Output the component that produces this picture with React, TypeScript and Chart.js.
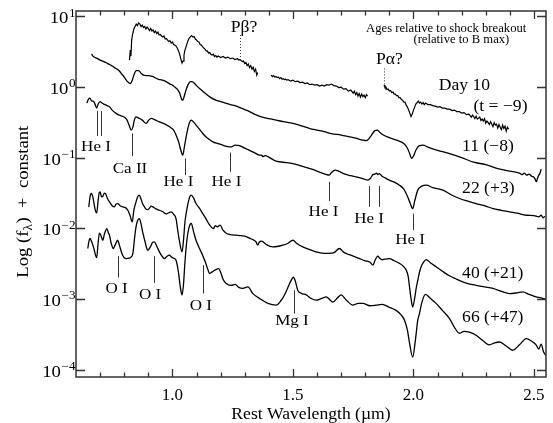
import React, { useEffect, useRef } from 'react';
import { Chart, registerables } from 'chart.js';

Chart.register(...registerables);

const FONT = "'Liberation Serif', 'Times New Roman', Times, serif";

// ---- Spectra: [rest wavelength (µm), flux + constant] ----
const day10Seg1: [number, number][] = [
  [0.822, 2.40], [0.825, 3.33], [0.828, 2.74], [0.831, 4.62], [0.835, 5.62],
  [0.84, 6.61], [0.845, 7.17], [0.85, 7.78], [0.855, 7.41], [0.86, 8.04], [0.865, 7.78], [0.87, 7.17],
  [0.875, 7.53], [0.88, 6.94], [0.885, 7.17], [0.89, 6.61], [0.895, 7.06], [0.9, 6.72], [0.905, 6.29],
  [0.91, 6.72], [0.915, 6.19], [0.92, 6.40], [0.925, 5.90], [0.93, 6.19], [0.935, 5.71], [0.94, 5.99],
  [0.945, 5.44], [0.95, 5.53], [0.955, 5.26], [0.96, 5.09], [0.965, 5.26], [0.97, 4.77], [0.975, 4.85],
  [0.98, 4.62], [0.985, 4.40], [0.99, 4.54], [0.995, 4.19], [1.0, 4.33], [1.005, 3.98], [1.01, 3.92],
  [1.015, 3.80], [1.02, 3.56], [1.025, 3.27], [1.03, 2.92], [1.035, 2.48], [1.04, 2.18], [1.044, 2.33],
  [1.048, 2.83], [1.052, 3.33], [1.056, 3.67], [1.06, 4.05], [1.065, 4.54], [1.07, 4.93], [1.075, 5.17],
  [1.08, 5.35], [1.085, 5.09], [1.09, 5.17], [1.095, 4.77], [1.1, 4.62], [1.105, 4.40], [1.11, 4.33],
  [1.115, 3.98], [1.12, 3.92], [1.125, 3.73], [1.13, 3.56], [1.135, 3.44], [1.14, 3.27], [1.145, 3.22],
  [1.15, 3.02], [1.155, 3.07], [1.16, 2.88], [1.165, 2.83], [1.17, 2.92], [1.175, 2.70], [1.18, 2.78],
  [1.185, 2.65], [1.19, 2.74], [1.2, 2.61], [1.21, 2.70], [1.22, 2.57], [1.23, 2.65], [1.24, 2.52],
  [1.25, 2.57], [1.26, 2.44], [1.27, 2.52], [1.275, 2.40], [1.28, 2.44], [1.29, 2.29], [1.295, 2.33],
  [1.3, 2.15], [1.305, 2.22], [1.31, 2.01], [1.315, 2.11], [1.32, 1.88], [1.325, 2.01], [1.33, 1.79],
  [1.335, 1.91], [1.34, 1.66], [1.345, 1.79], [1.35, 1.47], [1.354, 1.60],
];
const day10Seg2: [number, number][] = [
  [1.41, 1.47], [1.415, 1.40], [1.42, 1.45], [1.425, 1.38], [1.43, 1.40], [1.435, 1.36], [1.44, 1.38],
  [1.445, 1.31], [1.45, 1.36], [1.455, 1.29], [1.46, 1.31], [1.465, 1.27], [1.47, 1.29], [1.475, 1.25],
  [1.48, 1.27], [1.49, 1.21], [1.5, 1.25], [1.51, 1.19], [1.52, 1.21], [1.53, 1.155], [1.54, 1.17],
  [1.55, 1.12], [1.56, 1.14], [1.57, 1.08], [1.58, 1.10], [1.59, 1.064], [1.6, 1.08], [1.61, 1.03],
  [1.62, 1.064], [1.63, 1.03], [1.64, 1.08], [1.65, 1.064], [1.66, 1.10], [1.67, 1.047], [1.68, 1.03],
  [1.69, 0.981], [1.7, 0.997], [1.71, 0.934], [1.72, 0.95], [1.73, 0.875], [1.74, 0.904], [1.75, 0.82],
  [1.755, 0.875], [1.76, 0.78], [1.765, 0.833], [1.77, 0.743], [1.775, 0.806], [1.78, 0.719],
  [1.785, 0.793], [1.79, 0.731], [1.795, 0.768], [1.8, 0.707], [1.805, 0.78], [1.81, 0.743],
];
const day10Seg3: [number, number][] = [
  [1.878, 1.064], [1.882, 0.981], [1.886, 0.997], [1.89, 0.92], [1.895, 0.934], [1.9, 0.875],
  [1.905, 0.89], [1.91, 0.833], [1.915, 0.847], [1.92, 0.793], [1.925, 0.793], [1.93, 0.755],
  [1.935, 0.755], [1.94, 0.707], [1.945, 0.707], [1.95, 0.663], [1.955, 0.652], [1.96, 0.611],
  [1.965, 0.611], [1.97, 0.554], [1.975, 0.519], [1.98, 0.471], [1.985, 0.427], [1.99, 0.381],
  [1.995, 0.413], [2.0, 0.471], [2.005, 0.519], [2.01, 0.573], [2.015, 0.601], [2.02, 0.631],
  [2.025, 0.592], [2.03, 0.611], [2.035, 0.573], [2.04, 0.601], [2.045, 0.563], [2.05, 0.592],
  [2.06, 0.563], [2.07, 0.563], [2.08, 0.545], [2.09, 0.536], [2.1, 0.519], [2.11, 0.527], [2.12, 0.503],
  [2.13, 0.503], [2.14, 0.486], [2.15, 0.486], [2.16, 0.463], [2.17, 0.471], [2.18, 0.449], [2.19, 0.449],
  [2.2, 0.427], [2.21, 0.434], [2.22, 0.406], [2.23, 0.413], [2.24, 0.375], [2.245, 0.40], [2.25, 0.381],
  [2.255, 0.357], [2.26, 0.387], [2.265, 0.351], [2.27, 0.363], [2.275, 0.375], [2.28, 0.335],
  [2.285, 0.351], [2.29, 0.329], [2.295, 0.357], [2.3, 0.308], [2.305, 0.329], [2.31, 0.313],
  [2.315, 0.294], [2.32, 0.323], [2.325, 0.298], [2.33, 0.275], [2.335, 0.313], [2.34, 0.289],
  [2.345, 0.298], [2.35, 0.262], [2.355, 0.294], [2.36, 0.27], [2.365, 0.249], [2.37, 0.289],
  [2.375, 0.258], [2.38, 0.279], [2.385, 0.237], [2.39, 0.27], [2.395, 0.253],
];
const day11: [number, number][] = [
  [0.665, 2.94], [0.67, 2.74], [0.68, 2.61], [0.69, 2.52], [0.7, 2.40], [0.71, 2.33], [0.72, 2.25],
  [0.73, 2.16], [0.74, 2.08], [0.75, 1.98], [0.76, 1.88], [0.77, 1.79], [0.78, 1.68], [0.79, 1.52],
  [0.8, 1.38], [0.81, 1.23], [0.82, 1.14], [0.826, 1.12], [0.832, 1.21], [0.84, 1.47], [0.85, 1.71],
  [0.86, 1.71], [0.87, 1.57], [0.88, 1.47], [0.89, 1.45], [0.9, 1.45], [0.91, 1.43], [0.92, 1.40],
  [0.93, 1.34], [0.94, 1.29], [0.95, 1.27], [0.96, 1.25], [0.97, 1.21], [0.98, 1.155], [0.99, 1.10],
  [1.0, 1.064], [1.01, 0.997], [1.02, 0.934], [1.03, 0.82], [1.038, 0.674], [1.043, 0.652], [1.048, 0.719],
  [1.055, 0.875], [1.065, 1.08], [1.075, 1.19], [1.08, 1.19], [1.09, 1.14], [1.1, 1.047], [1.12, 0.904],
  [1.14, 0.793], [1.16, 0.707], [1.18, 0.652], [1.2, 0.621], [1.22, 0.592], [1.24, 0.563], [1.26, 0.545],
  [1.28, 0.511], [1.3, 0.479], [1.32, 0.449], [1.34, 0.413], [1.36, 0.387], [1.38, 0.369], [1.4, 0.357],
  [1.43, 0.34], [1.46, 0.323], [1.5, 0.305], [1.54, 0.279], [1.57, 0.258], [1.6, 0.245], [1.63, 0.233],
  [1.66, 0.219], [1.7, 0.209], [1.73, 0.199], [1.76, 0.189], [1.79, 0.177], [1.805, 0.174], [1.82, 0.195],
  [1.84, 0.241], [1.85, 0.245], [1.86, 0.229], [1.875, 0.209], [1.9, 0.192], [1.93, 0.177], [1.96, 0.158],
  [1.975, 0.136], [1.985, 0.1125], [1.992, 0.0975], [2.0, 0.105], [2.01, 0.127], [2.025, 0.148],
  [2.04, 0.15], [2.06, 0.141], [2.1, 0.127], [2.15, 0.114], [2.2, 0.1], [2.25, 0.0863], [2.3, 0.0796],
  [2.35, 0.0698], [2.4, 0.0644], [2.44, 0.0603], [2.45, 0.0575], [2.46, 0.0603], [2.47, 0.0566],
  [2.48, 0.0585], [2.49, 0.0547], [2.5, 0.0529], [2.505, 0.0496], [2.51, 0.0457], [2.515, 0.0512],
  [2.52, 0.0566], [2.525, 0.0603], [2.53, 0.0687],
];
const day22: [number, number][] = [
  [0.645, 0.592], [0.652, 0.674], [0.658, 0.696], [0.665, 0.631], [0.672, 0.631], [0.678, 0.582],
  [0.686, 0.503], [0.692, 0.573], [0.7, 0.621], [0.708, 0.592], [0.715, 0.573], [0.725, 0.554],
  [0.739, 0.524], [0.75, 0.471], [0.766, 0.423], [0.78, 0.40], [0.8, 0.375], [0.812, 0.34], [0.82, 0.289],
  [0.829, 0.245], [0.836, 0.27], [0.842, 0.34], [0.849, 0.378], [0.86, 0.363], [0.875, 0.34],
  [0.891, 0.305], [0.902, 0.34], [0.912, 0.359], [0.93, 0.34], [0.946, 0.321], [0.965, 0.303],
  [0.988, 0.273], [1.005, 0.245], [1.015, 0.209], [1.025, 0.171], [1.035, 0.127], [1.043, 0.1085],
  [1.05, 0.145], [1.06, 0.222], [1.07, 0.308], [1.078, 0.34], [1.09, 0.313], [1.098, 0.289],
  [1.112, 0.253], [1.126, 0.22], [1.145, 0.189], [1.168, 0.1675], [1.19, 0.158], [1.209, 0.15],
  [1.23, 0.143], [1.244, 0.142], [1.26, 0.15], [1.278, 0.148], [1.3, 0.136], [1.32, 0.127], [1.34, 0.118],
  [1.361, 0.1085], [1.37, 0.1085], [1.375, 0.1035], [1.385, 0.107], [1.4, 0.1017], [1.43, 0.0892],
  [1.46, 0.0861], [1.5, 0.0826], [1.53, 0.077], [1.568, 0.0703], [1.6, 0.0644], [1.624, 0.0597],
  [1.64, 0.0575], [1.651, 0.0566], [1.66, 0.0615], [1.675, 0.0668], [1.69, 0.0644], [1.71, 0.0594],
  [1.74, 0.0556], [1.762, 0.0535], [1.79, 0.0505], [1.811, 0.0481], [1.822, 0.0512], [1.832, 0.0575],
  [1.84, 0.0585], [1.847, 0.0603], [1.852, 0.0575], [1.858, 0.0594], [1.87, 0.0547], [1.885, 0.0512],
  [1.9, 0.0481], [1.92, 0.045], [1.942, 0.0408], [1.96, 0.0358], [1.975, 0.0285], [1.985, 0.0234],
  [1.997, 0.019], [2.005, 0.0242], [2.018, 0.0347], [2.035, 0.0395], [2.053, 0.0408], [2.08, 0.0376],
  [2.122, 0.0347], [2.16, 0.0294], [2.191, 0.0264], [2.226, 0.0242], [2.26, 0.0224], [2.3, 0.0206],
  [2.33, 0.019], [2.365, 0.018], [2.398, 0.0171], [2.43, 0.0164], [2.468, 0.0153], [2.5, 0.0151],
  [2.52, 0.01455], [2.53, 0.0153], [2.538, 0.0141], [2.545, 0.0148],
];
const day40: [number, number][] = [
  [0.653, 0.0199], [0.658, 0.0276], [0.663, 0.0311], [0.67, 0.0276], [0.676, 0.0212], [0.681, 0.0175],
  [0.686, 0.01655], [0.692, 0.025], [0.697, 0.0324], [0.7, 0.0328], [0.706, 0.0278], [0.712, 0.0285],
  [0.717, 0.0314], [0.722, 0.0311], [0.73, 0.0267], [0.739, 0.0236], [0.75, 0.0209], [0.759, 0.0201],
  [0.766, 0.022], [0.773, 0.0224], [0.783, 0.0209], [0.794, 0.0201], [0.805, 0.0196], [0.815, 0.018],
  [0.824, 0.0153], [0.833, 0.0123], [0.84, 0.018], [0.849, 0.0236], [0.856, 0.028], [0.863, 0.0294],
  [0.87, 0.0258], [0.877, 0.022], [0.884, 0.0201], [0.891, 0.0186], [0.898, 0.0184], [0.905, 0.0193],
  [0.912, 0.0206], [0.919, 0.0201], [0.93, 0.019], [0.946, 0.018], [0.96, 0.0172], [0.975, 0.016],
  [0.985, 0.0166], [0.995, 0.0171], [1.005, 0.0158], [1.015, 0.01375], [1.022, 0.0094], [1.03, 0.00635],
  [1.04, 0.00464], [1.046, 0.00678], [1.052, 0.0122], [1.058, 0.0169], [1.065, 0.0227], [1.072, 0.028],
  [1.078, 0.0294], [1.088, 0.0267], [1.098, 0.0224], [1.112, 0.0193], [1.126, 0.0161], [1.14, 0.0135],
  [1.152, 0.01145], [1.161, 0.01047], [1.17, 0.0099], [1.178, 0.0109], [1.186, 0.0105], [1.198, 0.01107],
  [1.21, 0.0094], [1.223, 0.00852], [1.24, 0.00814], [1.264, 0.00798], [1.285, 0.00785], [1.306, 0.00765],
  [1.325, 0.00712], [1.347, 0.00642], [1.354, 0.00577], [1.36, 0.00635], [1.37, 0.00659], [1.39, 0.00587],
  [1.417, 0.00545], [1.44, 0.00557], [1.458, 0.00577], [1.48, 0.00615], [1.5, 0.00678], [1.515, 0.00615],
  [1.541, 0.00545], [1.57, 0.00498], [1.596, 0.00464], [1.62, 0.00445], [1.651, 0.00441], [1.67, 0.00452],
  [1.693, 0.00518], [1.71, 0.0046], [1.735, 0.00423], [1.776, 0.00373], [1.8, 0.00347], [1.82, 0.00331],
  [1.832, 0.00301], [1.84, 0.00347], [1.852, 0.00403], [1.86, 0.00377], [1.87, 0.00359], [1.88, 0.00365],
  [1.9, 0.00373], [1.92, 0.00347], [1.942, 0.00319], [1.96, 0.00286], [1.97, 0.00256], [1.978, 0.0021],
  [1.983, 0.00156], [1.99, 0.00102], [1.997, 0.00077], [2.005, 0.00102], [2.012, 0.00146], [2.018, 0.00184],
  [2.025, 0.00239], [2.032, 0.00285], [2.042, 0.00331], [2.053, 0.00361], [2.07, 0.00326], [2.094, 0.00285],
  [2.12, 0.00247], [2.149, 0.00213], [2.175, 0.00193], [2.205, 0.00174], [2.23, 0.00164], [2.26, 0.00156],
  [2.295, 0.00148], [2.33, 0.00141], [2.365, 0.00128], [2.398, 0.00119], [2.43, 0.00122], [2.454, 0.00126],
  [2.48, 0.00116], [2.509, 0.00107], [2.53, 0.00104], [2.55, 0.00098],
];
const day66: [number, number][] = [
  [0.649, 0.00518], [0.653, 0.00635], [0.658, 0.00717], [0.664, 0.00659], [0.67, 0.00577], [0.676, 0.00489],
  [0.681, 0.00416], [0.686, 0.00386], [0.691, 0.00577], [0.697, 0.00852], [0.703, 0.00798], [0.711, 0.00678],
  [0.718, 0.0083], [0.728, 0.0099], [0.734, 0.00867], [0.739, 0.00798], [0.746, 0.00615], [0.755, 0.00518],
  [0.762, 0.00577], [0.773, 0.00678], [0.78, 0.00577], [0.79, 0.00445], [0.8, 0.00383], [0.808, 0.00373],
  [0.82, 0.00377], [0.828, 0.0039], [0.836, 0.00441], [0.842, 0.00678], [0.849, 0.01047], [0.856, 0.013],
  [0.863, 0.01375], [0.87, 0.01145], [0.877, 0.00873], [0.885, 0.00678], [0.891, 0.00557], [0.898, 0.00489],
  [0.91, 0.00557], [0.918, 0.00635], [0.925, 0.00642], [0.935, 0.00557], [0.946, 0.00464], [0.957, 0.00403],
  [0.967, 0.00373], [0.978, 0.00403], [0.988, 0.00416], [0.995, 0.00396], [1.005, 0.00377], [1.015, 0.00354],
  [1.025, 0.00239], [1.033, 0.00146], [1.04, 0.00114], [1.046, 0.00161], [1.052, 0.00331], [1.06, 0.00678],
  [1.068, 0.01], [1.078, 0.0117], [1.088, 0.0089], [1.098, 0.00678], [1.11, 0.0054], [1.119, 0.00464],
  [1.128, 0.00393], [1.137, 0.00331], [1.148, 0.00256], [1.154, 0.00229], [1.165, 0.00242], [1.178, 0.00258],
  [1.192, 0.00269], [1.2, 0.00239], [1.21, 0.0019], [1.222, 0.00167], [1.244, 0.00156], [1.26, 0.00161],
  [1.275, 0.00146], [1.292, 0.00141], [1.313, 0.00148], [1.334, 0.00119], [1.361, 0.00102], [1.396, 0.000865],
  [1.43, 0.000817], [1.45, 0.000944], [1.465, 0.00114], [1.485, 0.00161], [1.496, 0.00193], [1.502, 0.00203],
  [1.51, 0.00178], [1.52, 0.00133], [1.535, 0.0012], [1.555, 0.00114], [1.575, 0.00102], [1.596, 0.00096],
  [1.62, 0.00102], [1.638, 0.00107], [1.655, 0.00096], [1.666, 0.000904], [1.685, 0.00104], [1.7, 0.00114],
  [1.72, 0.000975], [1.749, 0.000817], [1.77, 0.000865], [1.79, 0.000865], [1.82, 0.000802], [1.845, 0.000817],
  [1.87, 0.00084], [1.9, 0.000762], [1.928, 0.00069], [1.95, 0.000589], [1.963, 0.0005], [1.975, 0.000361],
  [1.985, 0.000224], [1.997, 0.00015], [2.008, 0.000259], [2.018, 0.0005], [2.025, 0.000621], [2.035, 0.000896],
  [2.05, 0.00116], [2.07, 0.00102], [2.094, 0.000865], [2.12, 0.00069], [2.149, 0.000533], [2.17, 0.000397],
  [2.191, 0.000327], [2.21, 0.000348], [2.232, 0.00034], [2.26, 0.000306], [2.29, 0.000254], [2.315, 0.000224],
  [2.337, 0.000239], [2.357, 0.000246], [2.385, 0.000216], [2.412, 0.000188], [2.44, 0.000224], [2.468, 0.000275],
  [2.49, 0.000254], [2.509, 0.000224], [2.52, 0.000195], [2.53, 0.00023], [2.54, 0.000177], [2.55, 0.000159],
];

// ---- Axes ----
const xMin = 0.6;
const xMax = 2.55;
const yMin = 7.86e-5;
const yMax = 11.9;
const xTickValues = [1.0, 1.5, 2.0, 2.5];
const xTickLabels = ['1.0', '1.5', '2.0', '2.5'];
const xMinorTicks = [0.7, 0.8, 0.9, 1.1, 1.2, 1.3, 1.4, 1.6, 1.7, 1.8, 1.9, 2.1, 2.2, 2.3, 2.4];
const yTickValues = [1e-4, 1e-3, 1e-2, 1e-1, 1, 10];
const yTickBase = '10';
const yTickExponents = ['\u22124', '\u22123', '\u22122', '\u22121', '0', '1'];
const xTitle = 'Rest Wavelength (\u00b5m)';
const yTitleParts = ['Log (f', '\u03bb', ')  +  constant'];

// ---- Annotations ----
const lineIds = [
  { text: 'He I', waves: [0.686, 0.704], top: 0.456, bottom: 0.202, textWave: 0.683, textFlux: 0.123 },
  { text: 'Ca II', waves: [0.8315], top: 0.22, bottom: 0.105, textWave: 0.824, textFlux: 0.0609 },
  { text: 'He I', waves: [1.0515], top: 0.0975, bottom: 0.0566, textWave: 1.025, textFlux: 0.0395 },
  { text: 'He I', waves: [1.2407], top: 0.118, bottom: 0.0629, textWave: 1.224, textFlux: 0.0395 },
  { text: 'He I', waves: [1.6515], top: 0.0455, bottom: 0.0244, textWave: 1.627, textFlux: 0.01485 },
  { text: 'He I', waves: [1.815, 1.8564], top: 0.0395, bottom: 0.0201, textWave: 1.816, textFlux: 0.0119 },
  { text: 'He I', waves: [2.0], top: 0.0161, bottom: 0.0094, textWave: 1.986, textFlux: 0.00596 },
  { text: 'O I', waves: [0.776], top: 0.00403, bottom: 0.00201, textWave: 0.7685, textFlux: 0.00121 },
  { text: 'O I', waves: [0.925], top: 0.00403, bottom: 0.00169, textWave: 0.9075, textFlux: 0.00099 },
  { text: 'O I', waves: [1.1286], top: 0.00301, bottom: 0.00119, textWave: 1.118, textFlux: 0.000707 },
  { text: 'Mg I', waves: [1.5037], top: 0.00133, bottom: 0.000621, textWave: 1.496, textFlux: 0.000434 },
];
const dottedIds = [
  { text: 'P\u03b2?', wave: 1.281, top: 5.44, bottom: 2.25, textWave: 1.297, textFlux: 5.97 },
  { text: 'P\u03b1?', wave: 1.878, top: 1.83, bottom: 0.987, textWave: 1.9004, textFlux: 2.1 },
];
const epochLabels = [
  { text: 'Day 10', wave: 2.105, flux: 0.904 },
  { text: '(t = \u22129)', wave: 2.249, flux: 0.456 },
  { text: '11 (\u22128)', wave: 2.202, flux: 0.1245 },
  { text: '22 (+3)', wave: 2.202, flux: 0.0311 },
  { text: '40 (+21)', wave: 2.202, flux: 0.00199 },
  { text: '66 (+47)', wave: 2.202, flux: 0.000472 },
];
const noteLines = [
  { text: 'Ages relative to shock breakout', wave: 1.8037, flux: 5.97 },
  { text: '(relative to B max)', wave: 2.0, flux: 4.15 },
];

const STRETCH = 1.1;

function drawText(ctx: CanvasRenderingContext2D, text: string, x: number, y: number, size: number, align: 'left' | 'center' | 'right') {
  ctx.save();
  ctx.font = `${size}px ${FONT}`;
  ctx.textBaseline = 'alphabetic';
  ctx.textAlign = 'left';
  const w = ctx.measureText(text).width * STRETCH;
  const left = align === 'center' ? x - w / 2 : align === 'right' ? x - w : x;
  ctx.translate(left, y);
  ctx.scale(STRETCH, 1);
  ctx.fillStyle = '#000';
  ctx.fillText(text, 0, 0);
  ctx.restore();
  return w;
}

const decorPlugin = {
  id: 'decor',
  afterDraw(chart: any) {
    const { ctx, chartArea: a, scales } = chart;
    const xs = scales.x;
    const ys = scales.y;
    ctx.save();

    // frame
    ctx.strokeStyle = '#333';
    ctx.lineWidth = 1.5;
    ctx.strokeRect(a.left, a.top, a.right - a.left, a.bottom - a.top);

    // ticks
    ctx.lineWidth = 1.3;
    ctx.beginPath();
    const xTick = (v: number, len: number) => {
      const px = Math.round(xs.getPixelForValue(v)) + 0.5;
      ctx.moveTo(px, a.bottom);
      ctx.lineTo(px, a.bottom - len);
      ctx.moveTo(px, a.top);
      ctx.lineTo(px, a.top + len);
    };
    xTickValues.forEach((v) => xTick(v, 8));
    xMinorTicks.forEach((v) => xTick(v, 4.5));
    yTickValues.forEach((v) => {
      const py = Math.round(ys.getPixelForValue(v)) + 0.5;
      ctx.moveTo(a.left, py);
      ctx.lineTo(a.left + 9, py);
      ctx.moveTo(a.right, py);
      ctx.lineTo(a.right - 9, py);
    });
    ctx.stroke();

    // y tick labels with superscript exponents
    yTickValues.forEach((v, i) => {
      const py = ys.getPixelForValue(v);
      const we = drawText(ctx, yTickExponents[i], a.left - 0.5, py + 0.5, 12, 'right');
      drawText(ctx, yTickBase, a.left - 1 - we, py + 7, 17, 'right');
    });

    // x title
    drawText(ctx, xTitle, (a.left + a.right) / 2, 418.5, 16, 'center');

    // y title (rotated, with subscript lambda)
    ctx.save();
    ctx.translate(28.3, 202);
    ctx.rotate(-Math.PI / 2);
    ctx.font = `17px ${FONT}`;
    const w0 = ctx.measureText(yTitleParts[0]).width * STRETCH;
    ctx.font = `12px ${FONT}`;
    const w1 = ctx.measureText(yTitleParts[1]).width * STRETCH;
    ctx.font = `17px ${FONT}`;
    const w2 = ctx.measureText(yTitleParts[2]).width * STRETCH;
    let cx = -(w0 + w1 + w2) / 2;
    drawText(ctx, yTitleParts[0], cx, 0, 17, 'left');
    cx += w0;
    drawText(ctx, yTitleParts[1], cx, 3.5, 12, 'left');
    cx += w1 + 0.5;
    drawText(ctx, yTitleParts[2], cx, 0, 17, 'left');
    ctx.restore();

    // solid line identifications
    ctx.strokeStyle = '#333';
    ctx.lineWidth = 1;
    ctx.setLineDash([]);
    lineIds.forEach((id) => {
      ctx.beginPath();
      id.waves.forEach((w) => {
        const px = Math.round(xs.getPixelForValue(w)) + 0.5;
        ctx.moveTo(px, ys.getPixelForValue(id.top));
        ctx.lineTo(px, ys.getPixelForValue(id.bottom));
      });
      ctx.stroke();
      drawText(ctx, id.text, xs.getPixelForValue(id.textWave), ys.getPixelForValue(id.textFlux), 15.5, 'center');
    });

    // dotted identifications
    ctx.setLineDash([1, 2]);
    dottedIds.forEach((id) => {
      const px = Math.round(xs.getPixelForValue(id.wave)) + 0.5;
      ctx.beginPath();
      ctx.moveTo(px, ys.getPixelForValue(id.top));
      ctx.lineTo(px, ys.getPixelForValue(id.bottom));
      ctx.stroke();
      drawText(ctx, id.text, xs.getPixelForValue(id.textWave), ys.getPixelForValue(id.textFlux), 16, 'center');
    });
    ctx.setLineDash([]);

    // epoch labels
    epochLabels.forEach((l) => {
      drawText(ctx, l.text, xs.getPixelForValue(l.wave), ys.getPixelForValue(l.flux), 16, 'left');
    });
    noteLines.forEach((l) => {
      drawText(ctx, l.text, xs.getPixelForValue(l.wave), ys.getPixelForValue(l.flux), 11.5, 'left');
    });

    ctx.restore();
  },
};

const toPoints = (pairs: [number, number][]) => pairs.map(([x, y]) => ({ x, y }));

export default function App() {
  const ref = useRef<HTMLCanvasElement>(null);

  useEffect(() => {
    if (!ref.current) return;
    const line = (data: any[], width: number, smooth: boolean) => ({
      data,
      borderColor: '#000',
      borderWidth: width,
      pointRadius: 0,
      fill: false,
      spanGaps: false,
      tension: smooth ? 0.35 : 0,
      cubicInterpolationMode: smooth ? ('monotone' as const) : ('default' as const),
    });
    const day10Data = [
      ...toPoints(day10Seg1),
      { x: 1.38, y: null },
      ...toPoints(day10Seg2),
      { x: 1.845, y: null },
      ...toPoints(day10Seg3),
    ];
    const chart = new Chart(ref.current, {
      type: 'line',
      data: {
        datasets: [
          line(day10Data, 1.2, false),
          line(toPoints(day11), 1.3, true),
          line(toPoints(day22), 1.3, true),
          line(toPoints(day40), 1.3, true),
          line(toPoints(day66), 1.3, true),
        ] as any,
      },
      options: {
        animation: false,
        responsive: false,
        events: [],
        layout: { padding: { top: 11, right: 7, left: 0, bottom: 0 } },
        plugins: { legend: { display: false }, tooltip: { enabled: false }, title: { display: false } },
        scales: {
          x: {
            type: 'linear',
            min: xMin,
            max: xMax,
            afterBuildTicks: (s: any) => {
              s.ticks = xTickValues.map((v) => ({ value: v }));
            },
            afterFit: (s: any) => {
              s.height = 46;
            },
            ticks: {
              callback: (_v: any, i: number) => xTickLabels[i] ?? '',
              font: { family: FONT, size: 17 },
              color: '#000',
              padding: 8,
              maxRotation: 0,
              autoSkip: false,
            },
            grid: { display: false, drawTicks: false },
            border: { display: false },
          },
          y: {
            type: 'logarithmic',
            min: yMin,
            max: yMax,
            afterBuildTicks: (s: any) => {
              s.ticks = yTickValues.map((v) => ({ value: v }));
            },
            afterFit: (s: any) => {
              s.width = 76;
            },
            ticks: { display: false },
            grid: { display: false, drawTicks: false },
            border: { display: false },
          },
        },
      } as any,
      plugins: [decorPlugin],
    });
    return () => chart.destroy();
  }, []);

  return (
    <div style={{ position: 'fixed', left: 0, top: 0, width: 553, height: 423, background: '#fff' }}>
      <canvas ref={ref} width={553} height={423} style={{ display: 'block', width: 553, height: 423 }} />
    </div>
  );
}
